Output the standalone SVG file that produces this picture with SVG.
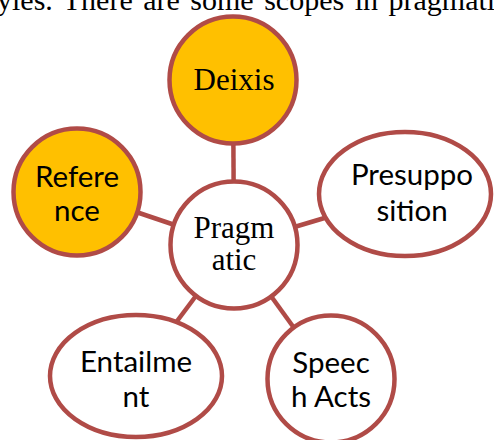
<svg xmlns="http://www.w3.org/2000/svg" width="494" height="440" viewBox="0 0 494 440">
<style>
.ring{stroke:#B04B47;stroke-width:4.5}
.hl{fill:#FFC000}
.pl{fill:#FFFFFF}
.conn{stroke:#B04B47;stroke-width:4.5;fill:none}
.serif{font-family:"Liberation Serif","Times New Roman",serif;font-size:31px;fill:#000;text-anchor:middle}
.sans{font-family:Lato,"Liberation Sans",sans-serif;font-size:29.5px;fill:#000;text-anchor:middle}
.top{font-family:"Liberation Serif","Times New Roman",serif;font-size:30px;fill:#000}
</style>
<text class="top" x="-3" y="10" word-spacing="3">yles. There are some scopes in pragmati</text>
<g id="connectors">
<line class="conn" x1="234" y1="245" x2="233" y2="80"/>
<line class="conn" x1="234" y1="245" x2="77" y2="192"/>
<line class="conn" x1="234" y1="245" x2="405" y2="194"/>
<line class="conn" x1="234" y1="245" x2="136" y2="376"/>
<line class="conn" x1="234" y1="245" x2="331" y2="379"/>
</g>
<g id="deixis">
<circle class="ring hl" cx="233" cy="80" r="63.5"/>
<text class="serif" x="234" y="90">Deixis</text>
</g>
<g id="reference">
<circle class="ring hl" cx="77" cy="192" r="63.5"/>
<text class="sans" x="77" y="187">Refere</text>
<text class="sans" x="77" y="221">nce</text>
</g>
<g id="pragmatic">
<circle class="ring pl" cx="234" cy="245" r="63.5"/>
<text class="serif" x="234" y="238">Pragm</text>
<text class="serif" x="234" y="270">atic</text>
</g>
<g id="presupposition">
<ellipse class="ring pl" cx="405" cy="194" rx="86" ry="62"/>
<text class="sans" x="412" y="185">Presuppo</text>
<text class="sans" x="412" y="221">sition</text>
</g>
<g id="entailment">
<ellipse class="ring pl" cx="136" cy="376" rx="86" ry="61"/>
<text class="sans" x="136" y="372">Entailme</text>
<text class="sans" x="136" y="407">nt</text>
</g>
<g id="speech-acts">
<circle class="ring pl" cx="331" cy="379" r="63.5"/>
<text class="sans" x="331" y="373">Speec</text>
<text class="sans" x="331" y="407">h Acts</text>
</g>
</svg>
